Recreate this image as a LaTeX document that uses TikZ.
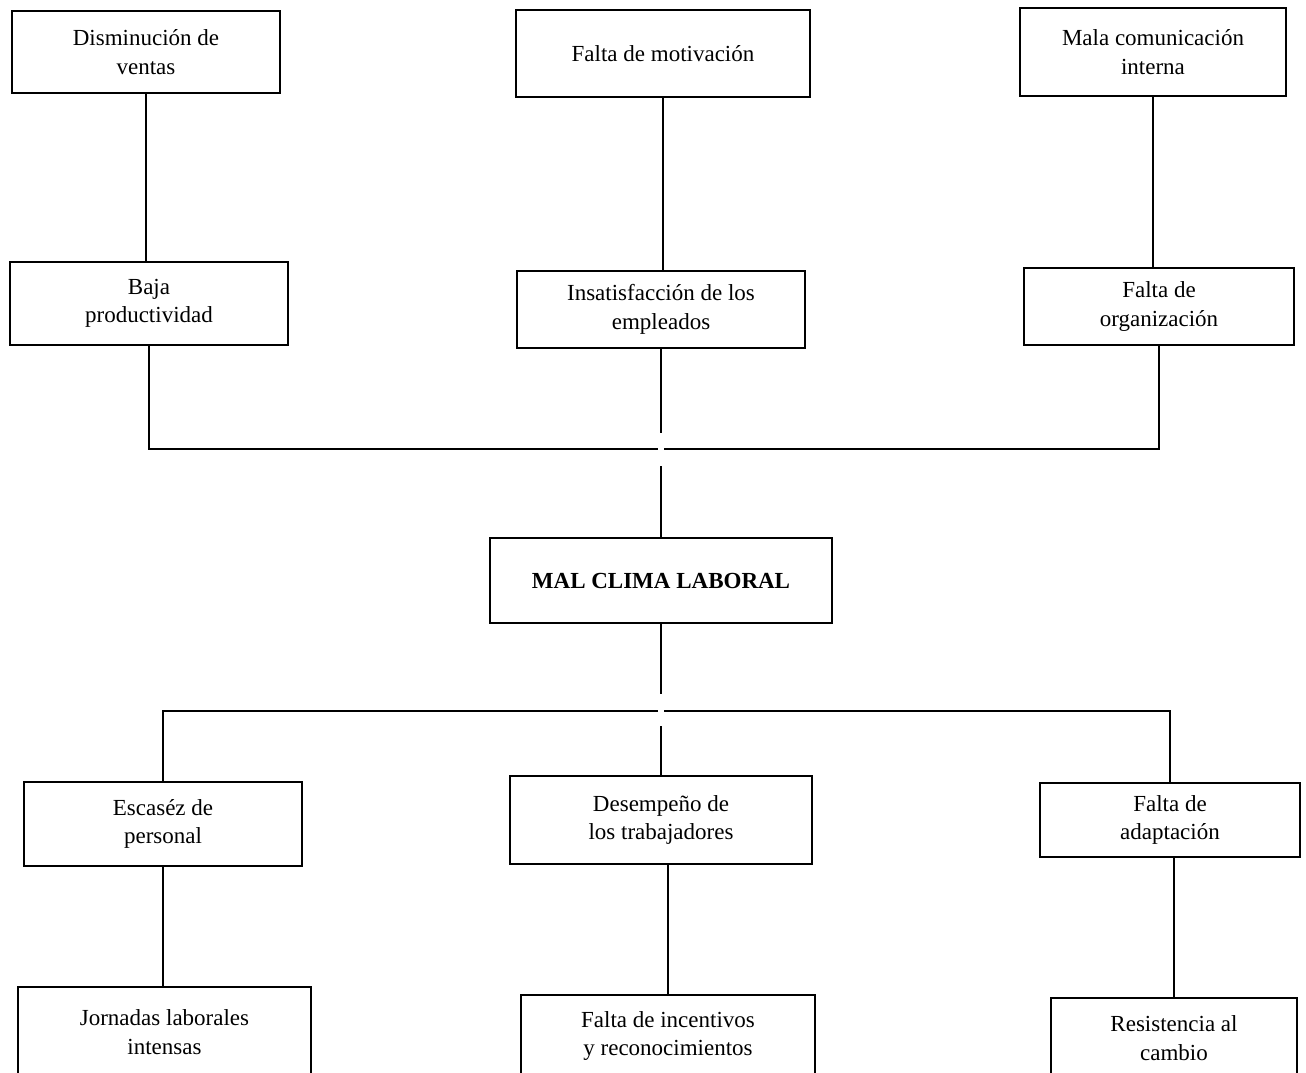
\documentclass[tikz,border=0pt]{standalone}
\usepackage{fontspec}
\setmainfont{Liberation Serif}
\usetikzlibrary{calc,positioning}

\begin{document}
\begin{tikzpicture}[x=1pt,y=-1pt,line width=1.6pt,
    font=\fontsize{23}{28.5}\selectfont,
    box/.style={draw,align=center,inner sep=2pt}]
  \useasboundingbox (0,0) rectangle (1306,1073);
  \clip (0,0) rectangle (1306,1073);
  % effects
  \node[box,minimum width=268,minimum height=82] (dism) at (146,52) {Disminución de\\ventas};
  \node[box,minimum width=294,minimum height=87] (moti) at (663,53.5) {Falta de motivación};
  \node[box,minimum width=266,minimum height=88] (comu) at (1153,52) {Mala comunicación\\interna};
  \node[box,minimum width=278,minimum height=83] (baja) at (149,303.5) {Baja\\productividad};
  \node[box,minimum width=288,minimum height=77] (insa) at (661,309.5) {Insatisfacción de los\\empleados};
  \node[box,minimum width=270,minimum height=77] (orga) at (1159,306.5) {Falta de\\organización};
  % problem
  \node[box,minimum width=342,minimum height=85,font=\fontsize{23}{28.5}\selectfont\bfseries] (clima) at (661,580.5) {MAL CLIMA LABORAL};
  % causes
  \node[box,minimum width=278,minimum height=84] (esca) at (163,824) {Escaséz de\\personal};
  \node[box,minimum width=302,minimum height=88] (dese) at (661,820) {Desempeño de\\los trabajadores};
  \node[box,minimum width=260,minimum height=74] (adap) at (1170,820) {Falta de\\adaptación};
  \node[box,minimum width=293,minimum height=90] (jorn) at (164.5,1032) {Jornadas laborales\\intensas};
  \node[box,minimum width=294,minimum height=82] (ince) at (668,1036) {Falta de incentivos\\y reconocimientos};
  \node[box,minimum width=246,minimum height=80] (resi) at (1174,1038) {Resistencia al\\cambio};

  \coordinate (jtop) at (661,449);
  \coordinate (jbot) at (661,711);

  \draw (dism.south) -- (dism.south |- baja.north);
  \draw (moti.south) -- (moti.south |- insa.north);
  \draw (comu.south) -- (comu.south |- orga.north);
  \draw (baja.south) |- ($(jtop)+(-3,0)$);
  \draw (orga.south) |- ($(jtop)+(3,0)$);
  \draw (insa.south) -- ($(jtop)+(0,-16)$);
  \draw ($(jtop)+(0,17)$) -- (clima.north);

  \draw (clima.south) -- ($(jbot)+(0,-17)$);
  \draw ($(jbot)+(0,15)$) -- (dese.north);
  \draw (esca.north) |- ($(jbot)+(-3,0)$);
  \draw (adap.north) |- ($(jbot)+(3,0)$);
  \draw (esca.south) -- (esca.south |- jorn.north);
  \draw (ince.north) -- (ince.north |- dese.south);
  \draw (resi.north) -- (resi.north |- adap.south);
\end{tikzpicture}
\end{document}
